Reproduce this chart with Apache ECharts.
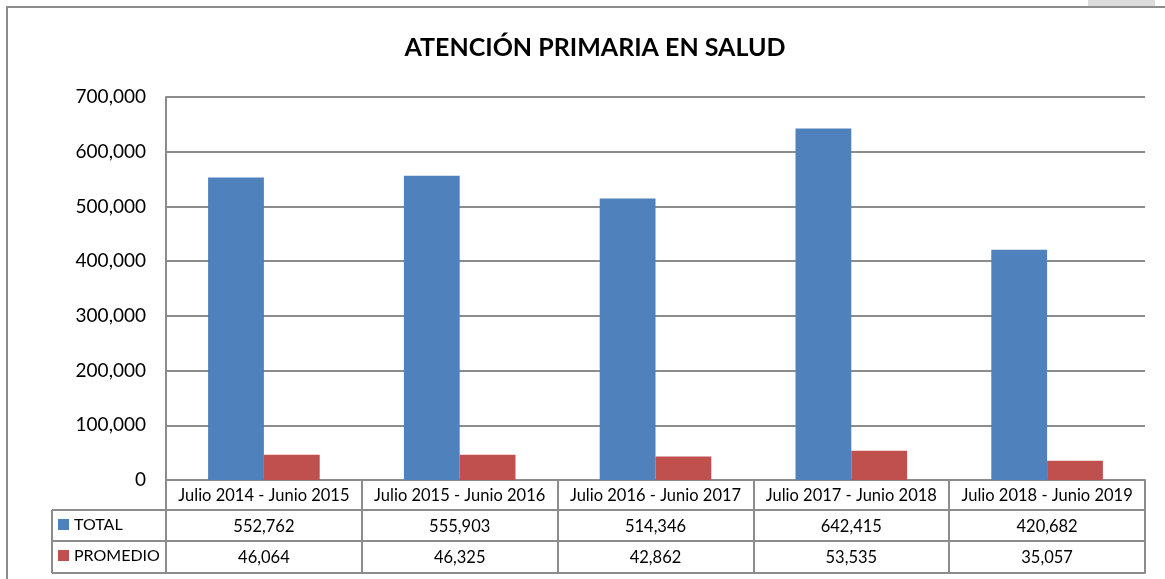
<!DOCTYPE html>
<html>
<head>
<meta charset="utf-8">
<script src="https://cdn.jsdelivr.net/npm/echarts@6/dist/echarts.min.js"></script>
<style>
  html, body { margin: 0; padding: 0; background: #fff; }
  #chart { width: 1165px; height: 579px; }
</style>
</head>
<body>
<div id="chart"></div>
<script>
// datos
const periodos = [
  "Julio 2014 - Junio 2015",
  "Julio 2015 - Junio 2016",
  "Julio 2016 - Junio 2017",
  "Julio 2017 - Junio 2018",
  "Julio 2018 - Junio 2019"
];
const total = [552762, 555903, 514346, 642415, 420682];
const promedio = [46064, 46325, 42862, 53535, 35057];
const yTicks = [0, 100000, 200000, 300000, 400000, 500000, 600000, 700000];

const FONT = "Lato";
const GRAY = "#8c8c8c";
const fmt = (v) => v.toLocaleString("en-US");

// layout
const gridLeft = 166, gridRight = 20, gridTop = 97, gridBottom = 99;
const plotBottom = 579 - gridBottom; // 480
const rowH = [30, 31, 32];
const legendLeft = 52;

const myChart = echarts.init(document.getElementById("chart"));

const baseX = {
  type: "category",
  data: periodos,
  position: "bottom",
  axisTick: { show: false },
  axisLine: { show: true, lineStyle: { color: GRAY, width: 2 } },
  axisLabel: { show: false },
  splitLine: { show: false },
};

const y1 = plotBottom + rowH[0];
const y2 = y1 + rowH[1];
const y3 = y2 + rowH[2];

const option = {
  animation: false,
  textStyle: { fontFamily: FONT },
  title: {
    text: "ATENCIÓN PRIMARIA EN SALUD",
    left: 590,
    textAlign: "center",
    top: 30,
    textStyle: { fontFamily: FONT, fontWeight: "bold", fontSize: 25, color: "#000" },
  },
  legend: {
    orient: "vertical",
    left: legendLeft + 6,
    top: y1 + 5,
    padding: 0,
    itemWidth: 11,
    itemHeight: 11,
    itemGap: 12,
    icon: "rect",
    textStyle: { fontFamily: FONT, fontSize: 16, lineHeight: 19, color: "#000" },
    data: ["TOTAL", "PROMEDIO"],
  },
  grid: { left: gridLeft, right: gridRight, top: gridTop, bottom: gridBottom, containLabel: false },
  xAxis: [
    {
      ...baseX,
      axisTick: { show: true, interval: 0, length: rowH[0] + rowH[1] + rowH[2], lineStyle: { color: GRAY, width: 2 } },
      axisLabel: { show: true, interval: 0, margin: 7, fontFamily: FONT, fontSize: 16.5, color: "#000" },
    },
    {
      ...baseX,
      offset: rowH[0],
      axisLabel: { show: true, interval: 0, margin: 8, fontFamily: FONT, fontSize: 16.5, color: "#000",
        formatter: (v, i) => fmt(total[i]) },
    },
    {
      ...baseX,
      offset: rowH[0] + rowH[1],
      axisLabel: { show: true, interval: 0, margin: 8, fontFamily: FONT, fontSize: 16.5, color: "#000",
        formatter: (v, i) => fmt(promedio[i]) },
    },
    {
      ...baseX,
      offset: rowH[0] + rowH[1] + rowH[2],
    },
  ],
  yAxis: {
    type: "value",
    min: yTicks[0],
    max: yTicks[yTicks.length - 1],
    interval: yTicks[1] - yTicks[0],
    axisLine: { show: true, lineStyle: { color: GRAY, width: 2 } },
    axisTick: { show: false },
    splitLine: { show: true, lineStyle: { color: GRAY, width: 2 } },
    axisLabel: { margin: 20, fontFamily: FONT, fontSize: 19, color: "#000", formatter: (v) => fmt(v) },
  },
  series: [
    {
      name: "TOTAL",
      type: "bar",
      data: total,
      barGap: "0%",
      barCategoryGap: "43%",
      itemStyle: { color: "#4F81BD" },
    },
    {
      name: "PROMEDIO",
      type: "bar",
      data: promedio,
      itemStyle: { color: "#C0504D" },
    },
  ],
  graphic: [
    // marco exterior
    { type: "rect", shape: { x: 7, y: 7, width: 1200, height: 620 }, style: { fill: null, stroke: GRAY, lineWidth: 2 }, silent: true },
    { type: "rect", shape: { x: 1088, y: 0, width: 67, height: 6 }, style: { fill: "#dcdcdc" }, silent: true },
    // columna de leyenda
    { type: "line", shape: { x1: legendLeft, y1: y1, x2: gridLeft, y2: y1 }, style: { stroke: GRAY, lineWidth: 2 }, silent: true },
    { type: "line", shape: { x1: legendLeft, y1: y2, x2: gridLeft, y2: y2 }, style: { stroke: GRAY, lineWidth: 2 }, silent: true },
    { type: "line", shape: { x1: legendLeft, y1: y3, x2: gridLeft, y2: y3 }, style: { stroke: GRAY, lineWidth: 2 }, silent: true },
    { type: "line", shape: { x1: legendLeft, y1: y1, x2: legendLeft, y2: y3 }, style: { stroke: GRAY, lineWidth: 2 }, silent: true },
  ],
};

option && myChart.setOption(option);
</script>
</body>
</html>
